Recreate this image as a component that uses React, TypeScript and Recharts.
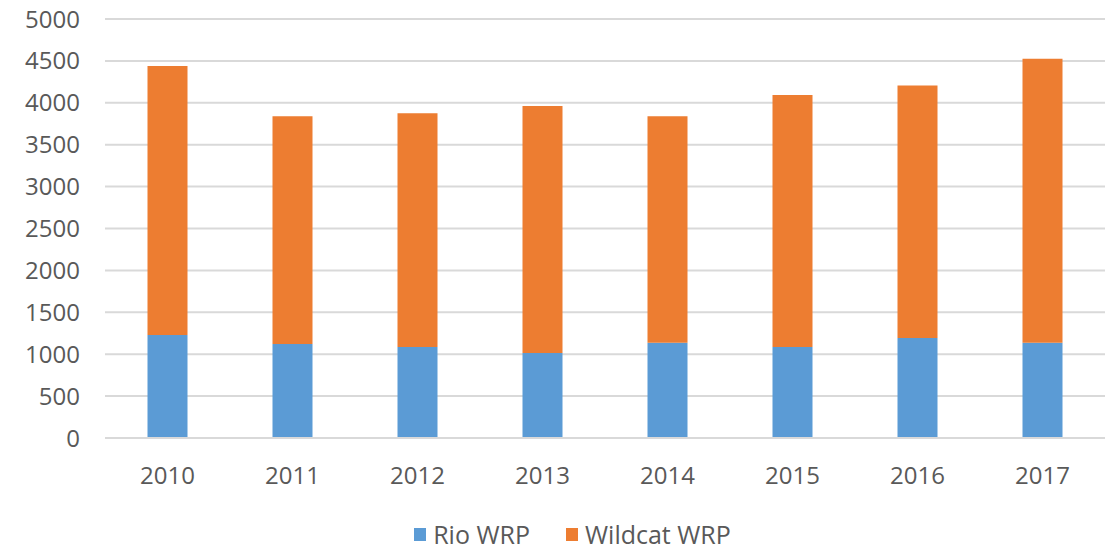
import React from 'react'
import { Bar, BarChart, CartesianGrid, Legend, XAxis, YAxis } from 'recharts'

const years = ['2010', '2011', '2012', '2013', '2014', '2015', '2016', '2017']
const rioWrp = [1229, 1122, 1086, 1014, 1138, 1086, 1193, 1138]
const wildcatWrp = [3210, 2717, 2789, 2948, 2701, 3007, 3012, 3389]
const yTicks = [0, 500, 1000, 1500, 2000, 2500, 3000, 3500, 4000, 4500, 5000]

const data = years.map((year, i) => ({ year, rio: rioWrp[i], wildcat: wildcatWrp[i] }))

const textColor = '#595959'
const fontFamily = '"Open Sans", sans-serif'

function LegendBox({ payload }: any) {
  return (
    <div
      style={{
        display: 'flex',
        justifyContent: 'center',
        gap: 36,
        fontFamily,
        fontSize: 25,
        lineHeight: '34px',
        height: 34,
        color: textColor,
        paddingLeft: 40,
      }}
    >
      {(payload || []).map((entry: any) => (
        <div key={entry.value} style={{ display: 'flex', alignItems: 'center' }}>
          <span style={{ width: 12, height: 13, background: entry.color, marginRight: 7, display: 'inline-block' }} />
          <span>{entry.value}</span>
        </div>
      ))}
    </div>
  )
}

export default function App() {
  return (
    <div style={{ position: 'absolute', left: 0, top: 0, background: '#fff' }}>
      <BarChart
        width={1117}
        height={551}
        data={data}
        margin={{ top: 19, right: 12, bottom: 0, left: 0 }}
        barCategoryGap="34%"
      >
        <CartesianGrid vertical={false} stroke="#d9d9d9" strokeWidth={2} />
        <XAxis
          dataKey="year"
          axisLine={{ stroke: '#d9d9d9', strokeWidth: 2 }}
          tickLine={false}
          tickSize={0}
          tickMargin={29}
          height={79}
          tick={{ fill: textColor, fontSize: 24, fontFamily }}
        />
        <YAxis
          domain={[0, 5000]}
          ticks={yTicks}
          interval={0}
          axisLine={false}
          tickLine={false}
          tickSize={0}
          tickMargin={25}
          width={105}
          tick={{ fill: textColor, fontSize: 24, fontFamily }}
        />
        <Legend verticalAlign="bottom" height={34} wrapperStyle={{ bottom: 0 }} content={<LegendBox />} />
        <Bar dataKey="rio" name="Rio WRP" stackId="a" fill="#5b9bd5" isAnimationActive={false} />
        <Bar dataKey="wildcat" name="Wildcat WRP" stackId="a" fill="#ed7d31" isAnimationActive={false} />
      </BarChart>
    </div>
  )
}
